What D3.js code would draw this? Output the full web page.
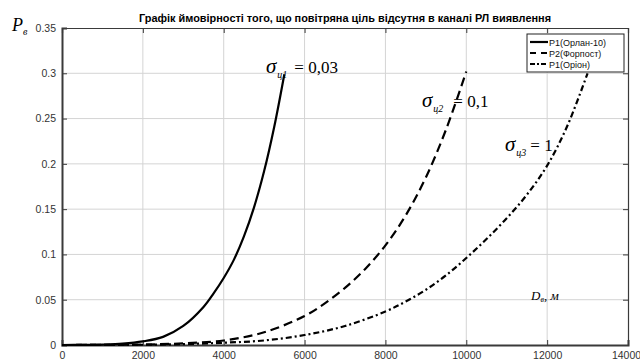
<!DOCTYPE html>
<html><head><meta charset="utf-8">
<script src="https://cdn.jsdelivr.net/npm/d3@7"></script>
<style>body{margin:0;background:#fff}svg{display:block}</style>
</head><body>
<svg id="c" width="640" height="362"></svg>
<script>
// ---- data ----
const title = "Графік ймовірності того, що повітряна ціль відсутня в каналі РЛ виявлення";
const seriesNames = ["P1(Орлан-10)", "P2(Форпост)", "P1(Оріон)"];
const d1 = [0, 500, 1000, 1500, 2000, 2500, 3000, 3500, 3750, 4000, 4250, 4500, 4750, 5000, 5250, 5500];
const p1 = [0, 0.0001, 0.0005, 0.0015, 0.004, 0.009, 0.021, 0.042, 0.057, 0.074, 0.094, 0.120, 0.152, 0.192, 0.241, 0.299];
const d2 = [0, 1000, 2000, 3000, 4000, 5000, 6000, 6500, 7000, 7500, 8000, 8500, 9000, 9500, 10000];
const p2 = [0, 0.0001, 0.0005, 0.0018, 0.005, 0.014, 0.032, 0.046, 0.063, 0.084, 0.110, 0.143, 0.185, 0.238, 0.302];
const d3v = [0, 1000, 2000, 3000, 4000, 5000, 6000, 7000, 8000, 8500, 9000, 9500, 10000, 10500, 11000, 11500, 12000, 12500, 13000];
const p3 = [0, 0.0001, 0.0003, 0.001, 0.0025, 0.005, 0.011, 0.021, 0.037, 0.048, 0.061, 0.077, 0.096, 0.117, 0.140, 0.166, 0.198, 0.242, 0.300];
const xTicks = [0, 2000, 4000, 6000, 8000, 10000, 12000, 14000];
const yTicks = [0, 0.05, 0.1, 0.15, 0.2, 0.25, 0.3, 0.35];
const yTickLabels = ["0", "0.05", "0.1", "0.15", "0.2", "0.25", "0.3", "0.35"];
const sigmaSubs = ["ц1", "ц2", "ц3"];
const sigmaVals = ["= 0,03", "= 0,1", "= 1"];

// ---- layout ----
const svg = d3.select("#c");
const L = 62, R = 628, T = 28, B = 345;
const x = d3.scaleLinear().domain([0, 14000]).range([L, R]);
const y = d3.scaleLinear().domain([0, 0.35]).range([B, T]);
const tickFont = "'Liberation Sans Narrow','Arial Narrow','Liberation Sans',sans-serif";
const serif = "'Liberation Serif','Times New Roman',serif";

// grid
const grid = svg.append("g");
grid.selectAll("line.gx").data(xTicks.slice(1, -1)).join("line")
  .attr("x1", d => x(d)).attr("x2", d => x(d)).attr("y1", T).attr("y2", B)
  .attr("stroke", "#d4d4d4").attr("stroke-width", 1);
grid.selectAll("line.gy").data(yTicks.slice(1, -1)).join("line")
  .attr("y1", d => y(d)).attr("y2", d => y(d)).attr("x1", L).attr("x2", R)
  .attr("stroke", "#d4d4d4").attr("stroke-width", 1);

// axes (inward ticks)
const axCol = "#3a3a3a";
const gB = svg.append("g").attr("transform", `translate(0,${B})`)
  .call(d3.axisBottom(x).tickValues(xTicks).tickSize(-5).tickPadding(7).tickFormat(d3.format("d")));
const gT = svg.append("g").attr("transform", `translate(0,${T})`)
  .call(d3.axisTop(x).tickValues(xTicks).tickSize(-5).tickFormat(""));
const gL = svg.append("g").attr("transform", `translate(${L},0)`)
  .call(d3.axisLeft(y).tickValues(yTicks).tickSize(-5).tickPadding(6).tickFormat((d, i) => yTickLabels[i]));
const gR = svg.append("g").attr("transform", `translate(${R},0)`)
  .call(d3.axisRight(y).tickValues(yTicks).tickSize(-5).tickFormat(""));
[gB, gT, gL, gR].forEach(g => {
  g.select(".domain").attr("stroke", axCol).attr("stroke-width", 1.2);
  g.selectAll(".tick line").attr("stroke", axCol);
  g.selectAll("text").attr("font-family", tickFont).attr("font-size", 10.5).attr("fill", "#333");
});
gL.select(".domain").attr("stroke-width", 2);
gB.select(".domain").attr("stroke-width", 2);
gB.selectAll(".tick text").filter(d => d === 14000).attr("dx", -2);

// lines
const line = d3.line().x(d => x(d[0])).y(d => y(d[1])).curve(d3.curveCatmullRom.alpha(0.5));
const sets = [
  {d: d1, p: p1, dash: null},
  {d: d2, p: p2, dash: "9,5"},
  {d: d3v, p: p3, dash: "6,3,2,3"}
];
sets.forEach(s => {
  svg.append("path").datum(s.d.map((v, i) => [v, s.p[i]]))
    .attr("d", line).attr("fill", "none").attr("stroke", "#000")
    .attr("stroke-width", 2.2).attr("stroke-dasharray", s.dash);
});

// title
svg.append("text").attr("x", (L + R) / 2).attr("y", 22).attr("text-anchor", "middle")
  .attr("font-family", "'Liberation Sans',Arial,sans-serif").attr("font-weight", "bold")
  .attr("font-size", 10).attr("textLength", 412).attr("lengthAdjust", "spacingAndGlyphs")
  .text(title);

// y label P_в
const py = svg.append("text").attr("x", 12).attr("y", 31).attr("font-family", serif).attr("font-style", "italic");
py.append("tspan").attr("font-size", 18).text("P");
py.append("tspan").attr("font-size", 10).attr("dy", 4).text("в");

// x label D_в, м
const dx = svg.append("text").attr("x", 531).attr("y", 300).attr("font-family", serif).attr("font-style", "italic");
dx.append("tspan").attr("font-size", 13).text("D");
dx.append("tspan").attr("font-size", 8).attr("dy", 2).text("в");
dx.append("tspan").attr("font-size", 13).attr("dy", -2).text(", м");

// sigma annotations
const ann = [
  {x: 266, y: 73, gap: 7},
  {x: 422, y: 107, gap: 10},
  {x: 505, y: 151, gap: 4}
];
ann.forEach((a, i) => {
  const t = svg.append("text").attr("x", a.x).attr("y", a.y).attr("font-family", serif);
  t.append("tspan").attr("font-size", 21).attr("font-style", "italic").text("σ");
  t.append("tspan").attr("font-size", 10).attr("font-style", "italic").attr("dy", 5).attr("dx", 1).text(sigmaSubs[i]);
  t.append("tspan").attr("font-size", 17).attr("dy", -5).attr("dx", a.gap).text(sigmaVals[i]);
});

// legend
const lg = svg.append("g");
const lx = 527, ly = 34, lw = 97, lh = 38;
lg.append("rect").attr("x", lx).attr("y", ly).attr("width", lw).attr("height", lh)
  .attr("fill", "#fff").attr("stroke", "#222").attr("stroke-width", 1);
sets.forEach((s, i) => {
  const yy = ly + 8 + i * 11;
  lg.append("line").attr("x1", lx + 3).attr("x2", lx + 21).attr("y1", yy).attr("y2", yy)
    .attr("stroke", "#000").attr("stroke-width", 2.2).attr("stroke-dasharray", s.dash ? (i === 1 ? "6,5" : "5,2,2,2") : null);
  lg.append("text").attr("x", lx + 22).attr("y", yy + 3.5).attr("font-family", "'Liberation Sans',Arial,sans-serif")
    .attr("font-size", 9).attr("fill", "#111").text(seriesNames[i]);
});
</script>
</body></html>
